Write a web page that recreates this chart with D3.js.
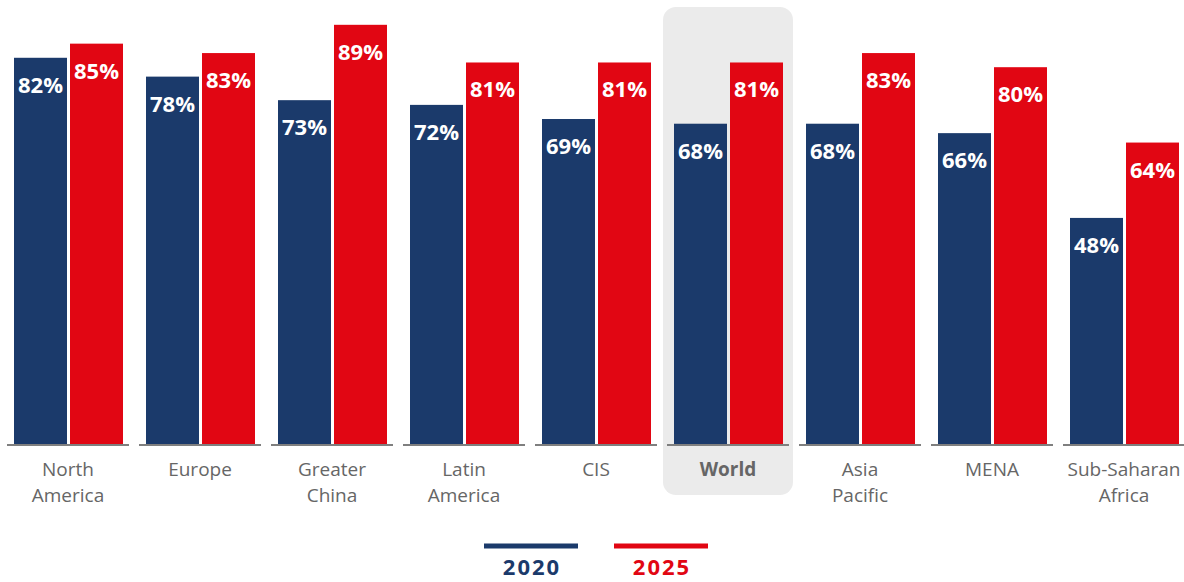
<!DOCTYPE html>
<html>
<head>
<meta charset="utf-8">
<script src="https://cdn.jsdelivr.net/npm/d3@7"></script>
<style>
  html, body { margin: 0; padding: 0; background: #ffffff; }
  svg { display: block; }
</style>
</head>
<body>
<svg id="chart" width="1184" height="582"></svg>
<script>
// Regions, in drawing order; each label is split into its display lines
const regions = ["North America", "Europe", "Greater China", "Latin America", "CIS", "World", "Asia Pacific", "MENA", "Sub-Saharan Africa"];
const regionLines = [["North", "America"], ["Europe"], ["Greater", "China"], ["Latin", "America"], ["CIS"], ["World"], ["Asia", "Pacific"], ["MENA"], ["Sub-Saharan", "Africa"]];
const years = ["2020", "2025"];
const values2020 = [82, 78, 73, 72, 69, 68, 68, 66, 48];
const values2025 = [85, 83, 89, 81, 81, 81, 83, 80, 64];
const highlight = "World";

const colors = { "2020": "#1b3a6b", "2025": "#e10613" };
const seriesValues = { "2020": values2020, "2025": values2025 };

const svg = d3.select("#chart");
const baseline = 444;

const x = d3.scaleBand().domain(regions).range([2, 2 + 132 * regions.length]).padding(0);
const xs = d3.scaleBand().domain(years).range([-54, 55]).paddingInner(3 / 56).paddingOuter(0);
const y = d3.scaleLinear().domain([0, 100]).range([baseline, baseline - 471]);

const center = r => x(r) + x.bandwidth() / 2;

// highlighted group background
svg.append("rect")
  .attr("x", center(highlight) - 65)
  .attr("y", 7)
  .attr("width", 130)
  .attr("height", 488)
  .attr("rx", 13)
  .attr("fill", "#ebebeb");

const groups = svg.selectAll("g.region")
  .data(regions.map((r, i) => ({ region: r, i })))
  .join("g")
  .attr("class", "region")
  .attr("transform", d => `translate(${center(d.region)},0)`);

// bars
groups.selectAll("rect.bar")
  .data(d => years.map(yr => ({ year: yr, value: seriesValues[yr][d.i] })))
  .join("rect")
  .attr("class", "bar")
  .attr("x", d => xs(d.year))
  .attr("width", xs.bandwidth())
  .attr("y", d => y(d.value))
  .attr("height", d => baseline - y(d.value))
  .attr("fill", d => colors[d.year]);

// value labels inside the top of each bar
groups.selectAll("text.value")
  .data(d => years.map(yr => ({ year: yr, value: seriesValues[yr][d.i] })))
  .join("text")
  .attr("class", "value")
  .attr("x", d => xs(d.year) + xs.bandwidth() / 2)
  .attr("y", d => y(d.value) + 35)
  .attr("text-anchor", "middle")
  .attr("fill", "#ffffff")
  .attr("font-family", "'Open Sans', sans-serif")
  .attr("font-weight", 700)
  .attr("font-size", 22)
  .text(d => d.value + "%");

// baseline segment under each group
groups.append("line")
  .attr("x1", -61).attr("x2", 61)
  .attr("y1", baseline + 1).attr("y2", baseline + 1)
  .attr("stroke", "#7f7f7f")
  .attr("stroke-width", 2);

// category labels
groups.append("text")
  .attr("text-anchor", "middle")
  .attr("fill", "#666666")
  .attr("font-family", "'Open Sans', sans-serif")
  .attr("font-size", 19)
  .attr("font-weight", d => d.region === highlight ? 700 : 400)
  .selectAll("tspan")
  .data(d => regionLines[d.i])
  .join("tspan")
  .attr("x", 0)
  .attr("y", (d, k) => 476 + k * 26)
  .text(d => d);

// legend
const legendX = { "2020": 531, "2025": 661 };
const legend = svg.selectAll("g.legend")
  .data(years)
  .join("g")
  .attr("class", "legend")
  .attr("transform", d => `translate(${legendX[d]},0)`);

legend.append("line")
  .attr("x1", -47).attr("x2", 47)
  .attr("y1", 546).attr("y2", 546)
  .attr("stroke", d => colors[d])
  .attr("stroke-width", 5);

legend.append("text")
  .attr("x", 1)
  .attr("y", 575)
  .attr("text-anchor", "middle")
  .attr("fill", d => colors[d])
  .attr("font-family", "'Open Sans', sans-serif")
  .attr("font-weight", 700)
  .attr("font-size", 22)
  .attr("letter-spacing", 2)
  .text(d => d);
</script>
</body>
</html>
